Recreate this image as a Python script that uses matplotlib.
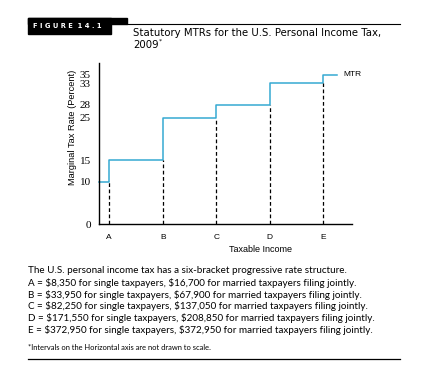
import matplotlib.pyplot as plt
from matplotlib.patches import Rectangle
from matplotlib.lines import Line2D

# marginal tax rates for each bracket (percent)
brackets = ["A", "B", "C", "D", "E"]
rates = [10, 15, 25, 28, 33, 35]
notes = [
    "The U.S. personal income tax has a six-bracket progressive rate structure.",
    "A = $8,350 for single taxpayers, $16,700 for married taxpayers filing jointly.",
    "B = $33,950 for single taxpayers, $67,900 for married taxpayers filing jointly.",
    "C = $82,250 for single taxpayers, $137,050 for married taxpayers filing jointly.",
    "D = $171,550 for single taxpayers, $208,850 for married taxpayers filing jointly.",
    "E = $372,950 for single taxpayers, $372,950 for married taxpayers filing jointly.",
]

blue = "#35a9d2"
narrow = ["Liberation Sans Narrow", "Liberation Sans", "DejaVu Sans"]

W, H = 431, 365
fig = plt.figure(figsize=(W / 100, H / 100), dpi=100)
ax = fig.add_axes([99.3 / W, 1 - 224.3 / H, (352 - 99.3) / W, (224.3 - 63) / H])

x_left, x_right = 0.813, 5.54
xs = list(range(1, len(brackets) + 1))

# step line for MTR
ax.step([x_left] + xs + [5.26], rates + [rates[-1]], where="post",
        color=blue, lw=1.1, clip_on=False)
# dashed guides from axis up to the lower rate
ax.vlines(xs, 0, rates[:-1], colors="black", linestyles=(0, (3, 2)), lw=0.9)

ax.set_xlim(x_left, x_right)
ax.set_ylim(0, 37.8)
ax.set_xticks(xs)
ax.set_xticklabels(brackets, family=narrow, fontsize=6)
ax.set_yticks([0] + rates)
ax.set_yticklabels([str(r) for r in [0] + rates], family="Liberation Serif", fontsize=8)
ax.tick_params(length=0)
ax.tick_params(axis="x", pad=7)
ax.tick_params(axis="y", pad=6)
for s in ["top", "right"]:
    ax.spines[s].set_visible(False)
for s in ["left", "bottom"]:
    ax.spines[s].set_linewidth(1.0)

ax.set_xlabel("Taxable Income", family=narrow, fontsize=6.5, va="center")
ax.xaxis.set_label_coords((260.7 - 99.3) / (352 - 99.3), -(249 - 224.3) / (224.3 - 63))
ax.set_ylabel("Marginal Tax Rate (Percent)", family=narrow, fontsize=6.7, va="center")
ax.yaxis.set_label_coords(-(99.3 - 73) / (352 - 99.3), (224.3 - 127.5) / (224.3 - 63))

ax.text(5.38, rates[-1], "MTR", family=narrow, fontsize=6, va="center", ha="left")

# header block
fig.add_artist(Rectangle((28 / W, 1 - 24 / H), (127 - 28) / W, 6 / H,
                         transform=fig.transFigure, color="black"))
fig.add_artist(Rectangle((28 / W, 1 - 34 / H), (111 - 28) / W, 16 / H,
                         transform=fig.transFigure, color="black"))
fig.add_artist(Line2D([127 / W, 400 / W], [1 - 24.3 / H] * 2,
                      transform=fig.transFigure, color="black", lw=0.8))
fig.text(33 / W, 1 - 26.5 / H, "F I G U R E  1 4 . 1", color="white",
         fontsize=4.9, weight="bold", va="center", family="DejaVu Sans")
fig.text(133 / W, 1 - 32.5 / H, "Statutory MTRs for the U.S. Personal Income Tax,",
         fontsize=7.3, va="center", family="DejaVu Sans")
fig.text(133 / W, 1 - 45 / H, "2009", fontsize=7.3, va="center", family="DejaVu Sans")
fig.text(159 / W, 1 - 41.5 / H, "*", fontsize=4.5, va="center", family="DejaVu Sans")

# notes under the chart
note_y = [270.7, 282.7, 294.5, 306, 318, 329.7]
for y, line in zip(note_y, notes):
    fig.text(28 / W, 1 - y / H, line, fontsize=7.1, va="center", family="Lato",
             parse_math=False)
fig.text(28 / W, 1 - 347.7 / H, "*Intervals on the Horizontal axis are not drawn to scale.",
         fontsize=5.4, va="center", family="Lato", parse_math=False)
fig.add_artist(Line2D([28 / W, 400 / W], [1 - 359 / H] * 2,
                      transform=fig.transFigure, color="black", lw=0.9))

fig.savefig("out.png", dpi=100)
